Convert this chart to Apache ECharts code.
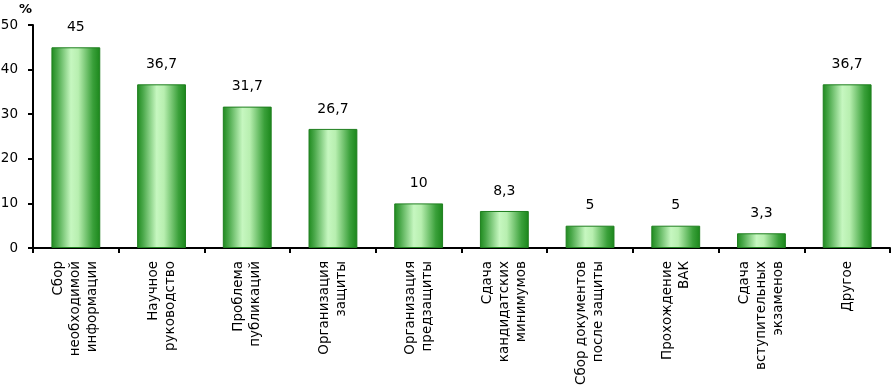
<!DOCTYPE html>
<html><head><meta charset="utf-8">
<script src="https://cdn.jsdelivr.net/npm/echarts@6/dist/echarts.min.js"></script>
<style>html,body{margin:0;padding:0;background:#fff}#c{width:893px;height:388px}</style>
</head><body><div id="c"></div>
<script>
var categories = [
  "Сбор\nнеобходимой\nинформации",
  "Научное\nруководство",
  "Проблема\nпубликаций",
  "Организация\nзащиты",
  "Организация\nпредзащиты",
  "Сдача\nкандидатских\nминимумов",
  "Сбор документов\nпосле защиты",
  "Прохождение\nВАК",
  "Сдача\nвступительных\nэкзаменов",
  "Другое"
];
var values = [45, 36.7, 31.7, 26.7, 10, 8.3, 5, 5, 3.3, 36.7];
var yTicks = [0, 10, 20, 30, 40, 50];

var chart = echarts.init(document.getElementById('c'));
var font = "'DejaVu Sans', sans-serif";
chart.setOption({
  animation: false,
  grid: {left: 33, right: 3, top: 25, bottom: 140, containLabel: false, outerBoundsMode: 'none'},
  xAxis: {
    type: 'category',
    data: categories,
    axisLine: {lineStyle: {color: '#000', width: 2}},
    axisTick: {show: true, alignWithLabel: false, length: 5, lineStyle: {color: '#000', width: 2}},
    axisLabel: {rotate: 90, margin: 13, color: '#000', fontFamily: font, fontSize: 13.5, lineHeight: 17, interval: 0}
  },
  yAxis: {
    type: 'value',
    min: yTicks[0], max: yTicks[yTicks.length - 1], interval: 10,
    name: '%',
    nameLocation: 'end',
    nameGap: 9,
    nameTextStyle: {color: '#000', fontFamily: font, fontSize: 13, fontWeight: 'bold', align: 'right', padding: [0, 1, 0, 0]},
    axisLine: {show: true, lineStyle: {color: '#000', width: 2}},
    axisTick: {show: true, length: 5, lineStyle: {color: '#000', width: 2}},
    splitLine: {show: false},
    axisLabel: {color: '#000', fontFamily: font, fontSize: 13.5, margin: 15}
  },
  series: [{
    type: 'bar',
    data: values,
    barWidth: '57%',
    itemStyle: {
      color: new echarts.graphic.LinearGradient(0, 0, 1, 0, [
        {offset: 0, color: '#1e8a1e'},
        {offset: 0.12, color: '#4aa84a'},
        {offset: 0.4, color: '#c6f7c0'},
        {offset: 0.55, color: '#b8efb0'},
        {offset: 0.85, color: '#3aa03a'},
        {offset: 1, color: '#1a861a'}
      ]),
      borderColor: '#1f7f1f',
      borderWidth: 1
    },
    label: {
      show: true, position: 'top', distance: 13, color: '#000',
      fontFamily: font, fontSize: 14,
      formatter: function (p) { return String(p.value).replace('.', ','); }
    }
  }]
});
</script></body></html>
